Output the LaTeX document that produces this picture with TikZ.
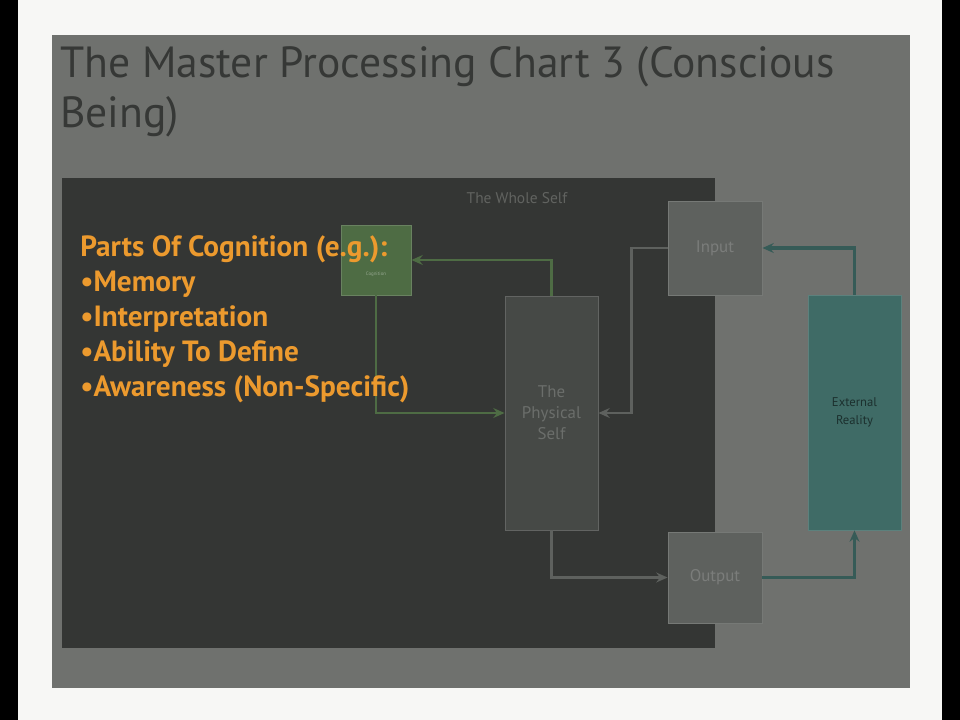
\documentclass[tikz,border=0pt]{standalone}
\usepackage{fontspec}
\setmainfont{PT Sans}
\usetikzlibrary{arrows.meta}
\definecolor{frame}{HTML}{F7F7F5}
\definecolor{slide}{HTML}{6F716E}
\definecolor{titlegray}{HTML}{363836}
\definecolor{selfdark}{HTML}{343634}
\definecolor{cogfill}{HTML}{4E6C44}
\definecolor{physfill}{HTML}{464946}
\definecolor{iofill}{HTML}{5E615E}
\definecolor{extfill}{HTML}{3F6B66}
\definecolor{partsorange}{HTML}{EC9A2E}
\def\px{0.025cm}
\begin{document}
\begin{tikzpicture}[x=\px,y=-\px,
  box/.style={draw=#1!85!white, fill=#1, line width=0.6pt, inner sep=0pt, align=center},
  greenline/.style={draw=cogfill, line width=2pt, -{Stealth[length=8pt,width=7pt]}},
  grayline/.style={draw=iofill, line width=2pt, -{Stealth[length=8pt,width=7pt]}},
  tealline/.style={draw=extfill!85!black, line width=2.4pt, -{Stealth[length=8pt,width=7pt]}}
]
\useasboundingbox (0,0) rectangle (960,720);
% page and slide
\fill[frame] (0,0) rectangle (960,720);
\fill[black] (0,0) rectangle (18,720);
\fill[black] (942,0) rectangle (960,720);
\fill[slide] (52,35) rectangle (910,688);
\node[anchor=west, text=titlegray, font=\fontsize{31}{35.5}\selectfont, align=left, inner sep=0pt]
  (title) at (60,92) {The Master Processing Chart 3 (Conscious\\Being)};
% the whole self
\fill[selfdark] (62,178) rectangle (715,648);
\node[text=slide!110!white, font=\fontsize{11}{12}\selectfont] (whole) at (517,198) {The Whole Self};
% boxes
\node[box=cogfill, minimum width=70*\px, minimum height=70*\px] (cog) at (376,260) {};
\node[text=cogfill!60!white, font=\fontsize{3.5}{4}\selectfont, inner sep=0pt]
  (coglabel) at (376,274) {Cognition};
\node[box=physfill, minimum width=93*\px, minimum height=234*\px, text=iofill!92!white,
  font=\fontsize{12}{15}\selectfont] (phys) at (551.5,413) {The\\Physical\\Self};
\node[box=iofill, minimum width=94*\px, minimum height=94*\px, text=iofill!82!white,
  font=\fontsize{12}{15}\selectfont] (input) at (715,248) {Input};
\node[box=iofill, minimum width=94*\px, minimum height=91*\px, text=iofill!82!white,
  font=\fontsize{12}{15}\selectfont] (output) at (715,577.5) {Output};
\node[box=extfill, minimum width=93*\px, minimum height=235*\px, text=extfill!45!black,
  font=\fontsize{9}{13}\selectfont] (ext) at (854.5,412.5) {External\\Reality};
% connectors
\draw[greenline] (phys.north) |- (cog.east);
\draw[greenline] (cog.south) |- (phys.west);
\draw[grayline] (input.west) -- ++(-36,0) |- (phys.east);
\draw[grayline] (phys.south) |- (output.west);
\draw[tealline] (output.east) -| (ext.south);
\draw[tealline] (ext.north) |- (input.east);
% parts of cognition
\node[anchor=north west, text=partsorange, font=\bfseries\fontsize{20.8}{25}\selectfont,
  align=left, inner sep=0pt] (parts) at (80,235)
  {Parts Of Cognition (e.g.):\\
   •Memory\\
   •Interpretation\\
   •Ability To Define\\
   •Awareness (Non-Specific)};
\end{tikzpicture}
\end{document}
